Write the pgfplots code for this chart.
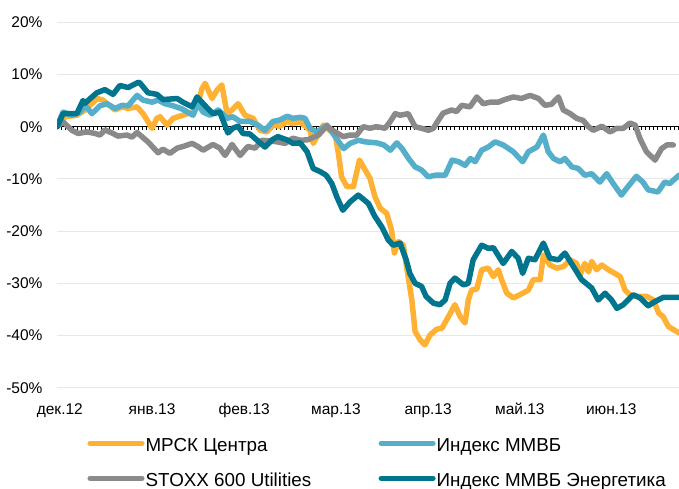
\documentclass[border=0pt]{standalone}
\usepackage{fontspec}
\setmainfont{Liberation Sans}
\usepackage{pgfplots}
\pgfplotsset{compat=1.18}
\definecolor{cOrange}{HTML}{FFB133}
\definecolor{cLBlue}{HTML}{55AFCB}
\definecolor{cGray}{HTML}{8A8A8A}
\definecolor{cTeal}{HTML}{00758D}
\definecolor{cGrid}{HTML}{E8E8E8}
\begin{document}
\begin{tikzpicture}
\begin{axis}[
  at={(0,0)}, anchor=south west,
  scale only axis, width=622bp, height=365.4bp,
  xmin=0, xmax=153.2, ymin=-50, ymax=20,
  axis line style={draw=none},
  major tick length=0pt,
  xtick={0.7,23.4,46.1,68.7,91.4,114,136.5},
  xticklabels={дек.12,янв.13,фев.13,мар.13,апр.13,май.13,июн.13},
  ytick={-50,-40,-30,-20,-10,0,10,20},
  yticklabels={-50\%,-40\%,-30\%,-20\%,-10\%,0\%,10\%,20\%},
  tick label style={font=\fontsize{15.5bp}{18bp}\selectfont},
  yticklabel style={anchor=east, inner sep=0pt, xshift=-14.3bp},
  xticklabel style={anchor=base, inner sep=0pt, yshift=-26.3bp},
  ymajorgrids, grid style={cGrid, line width=1bp},
  every axis plot/.append style={line width=5.5bp, line join=round, line cap=round},
  legend columns=2,
  legend cell align=left,
  legend image code/.code={\draw[#1, line cap=round] (0bp,0bp) -- (51.6bp,0bp);},
  legend style={
    at={(axis description cs:0.0490,-0.1311)}, anchor=north west,
    draw=none, fill=none, inner sep=0pt, outer sep=0pt,
    font=\fontsize{18.8bp}{21bp}\selectfont,
    nodes={inner sep=0pt, text height=15.4bp, text depth=0pt},
    row sep=19.6bp,
    /tikz/every odd column/.append style={column sep=1bp},
  },
]
% zero line with small daily ticks
\draw[black, line width=1.3bp] (axis cs:0,0) -- (axis cs:153.2,0);
\pgfplotsinvokeforeach{1,...,153}{\draw[black, line width=0.8bp] (axis cs:#1,0) -- (axis cs:#1,-0.6);}

\addplot[cOrange] coordinates {
(0,0) (2,1.9) (4.9,2.2) (6.9,3.2) (9.9,5.4) (11.3,5.1) (14.3,3.2) (16,3.8) (17.5,3.5) (19.7,3.8)
(21.2,2.5) (22.4,1) (23.4,-0.3) (24.6,1.6) (25.4,1.9) (27.1,0.3) (28.6,1.6) (31,2.2) (33.3,2.8)
(34.5,3.8) (35.7,7.3) (36.5,8.3) (38.2,5.4) (39.4,7) (40.6,8) (41.9,2.5) (43.1,3.2) (44.6,4.4)
(46.3,2.2) (48.3,1.6) (50,-0.7) (51.7,-1) (53.2,0.3) (54.9,0.1) (56.7,1) (57.9,0.6) (59.9,0.9)
(62.3,-0.7) (63.1,-3.2) (65.6,0.3) (67.2,-0.7) (68.5,-1.3) (69.3,-5.1) (70.1,-9.6) (71.4,-11.5)
(73,-11.5) (74.5,-6.4) (75.9,-8.3) (77.1,-9.9) (78.3,-13.4) (79.6,-15.6) (81.2,-16.6) (82.4,-19.8)
(83.1,-24.2) (84.1,-22) (85.3,-22.7) (86.1,-26.8) (87.4,-33.2) (88.2,-39.2) (89.4,-40.8) (90.6,-41.8)
(91.9,-39.9) (93.5,-38.8) (94.8,-38.6) (96.4,-36.4) (98,-34.1) (99.3,-36.4) (100.5,-37.6) (101.3,-33.2)
(102.1,-31.3) (103.4,-31.1) (104.6,-27.4) (106.2,-27.1) (107.5,-28.7) (108.7,-27.4) (109.5,-29.3)
(110.8,-31.9) (112.4,-32.8) (114,-32.2) (116.1,-31.3) (117.3,-29.3) (119,-29.3) (119.8,-24.6)
(121.4,-26.5) (123.1,-27.1) (124.7,-26.8) (126.4,-25.5) (128,-26.2) (128.8,-28.4) (130,-26.2)
(130.9,-27.8) (131.7,-25.8) (132.9,-27.4) (134.2,-26.5) (135.8,-27.4) (137.4,-28.1) (138.7,-28.7)
(139.9,-31.3) (141.1,-32.2) (142.8,-32.5) (145.2,-32.5) (146.9,-33.2) (148.2,-35.7) (149.3,-36.4)
(150.6,-38.3) (153.2,-39.5)
};
\addlegendentry{\makebox[233bp][l]{МРСК Центра}}

\addplot[cLBlue] coordinates {
(0,0) (1.5,2.8) (3.7,2.2) (5.7,2.8) (6.9,4.1) (8.6,2.5) (10.6,4) (12.3,4.4) (14.3,3.5) (16,4.1)
(17.5,4) (19.7,6) (21.2,5.1) (23.4,4.7) (24.9,5.1) (26.6,4.4) (28.6,4) (30.8,3.4) (33.5,2.2)
(34.7,4.4) (36,2.8) (37.7,2.2) (39.7,3.2) (41.9,1.6) (43.3,1.9) (45.1,1) (47.5,1) (49.5,0.3)
(51.2,-0.7) (53.2,1) (54.9,1.3) (56.7,2) (58.1,1.6) (59.9,1.8) (61.1,1.6) (62.3,-0.3) (64,-1)
(66.5,0.3) (68.5,-1.9) (70.6,-4.2) (72.2,-3.2) (74.2,-2.6) (75.9,-2.9) (78.8,-3.1) (80.5,-3.5)
(82.1,-4.5) (83.7,-3.1) (85,-4.2) (86.6,-6.1) (88.2,-7.7) (89.8,-8.3) (91.4,-9.6) (93.1,-9.3)
(95.6,-9.3) (97.3,-6.4) (98.9,-6.7) (100.5,-7.4) (101.8,-6.1) (103,-6.7) (104.6,-4.5) (106.2,-3.9)
(107.9,-2.9) (109.9,-3.5) (112.4,-4.8) (114.7,-6.7) (116.1,-4.8) (118.2,-3.9) (119.8,-1.6)
(121,-4.8) (122.3,-6.1) (123.9,-6.7) (125.1,-6.1) (126.8,-7.7) (128.4,-8) (130,-9.3) (131.7,-9)
(133.7,-10.6) (135.4,-9) (137,-10.9) (139,-13.1) (140.6,-11.5) (142.7,-9.5) (144.3,-10.6)
(145.6,-12.1) (148,-12.5) (149.7,-10.6) (150.9,-10.9) (153.2,-9.3)
};
\addlegendentry{Индекс ММВБ}

\addplot[cGray] coordinates {
(0,0) (1.5,0.9) (3.7,-0.7) (5.2,-1.3) (7.4,-1) (9.4,-1.3) (10.6,-1.6) (11.8,-0.6) (13.8,-1.3)
(15,-1.8) (17.2,-1.6) (18.5,-2) (19.7,-1.1) (20.9,-1.9) (22.4,-2.9) (23.6,-3.9) (24.9,-5)
(26.1,-4.3) (27.8,-5.1) (29.6,-4.1) (31,-3.8) (33.3,-3.2) (34.7,-3.8) (36,-4.5) (38.4,-3.4)
(40.1,-4.1) (41.4,-5.5) (43.1,-3.4) (45.1,-5.5) (47,-3.8) (48.8,-4.1) (50.5,-2.6) (52,-2.7)
(54.2,-2.9) (56.2,-3.2) (58.1,-2.2) (59.9,-2.6) (61.8,-2.5) (64.4,-1.6) (66.4,0.1) (68.5,-1)
(70.5,-1.9) (72.2,-1.6) (73.8,-1.6) (75.4,0) (77.1,-0.3) (78.7,0) (80.8,-0.3) (82,0.9) (83.3,2.5)
(84.5,2.2) (86.5,2.5) (88.2,0) (89.8,-0.3) (91.5,-0.7) (92.7,-0.3) (93.9,1.2) (95.1,2.6) (97.2,3.2)
(98.4,2.9) (99.7,4.1) (101.7,3.8) (103.4,5.7) (105,4.4) (106.7,4.7) (108.7,4.7) (110.3,5.2)
(112.4,5.7) (114.4,5.4) (116.5,6) (118.6,5.4) (120.2,4.1) (121.8,4.3) (123.5,5.7) (124.7,3.2)
(126.4,2.5) (128,1.6) (129.6,1.2) (130.9,0) (132.1,-0.7) (134.2,0.1) (136.2,-1) (137.9,-0.3)
(139.5,-0.3) (141.1,0.7) (142.4,0.3) (143.6,-2.3) (145.2,-4.8) (147.3,-6.4) (148.9,-4.2)
(150.2,-3.5) (151.8,-3.5)
};
\addlegendentry{\makebox[233bp][l]{STOXX 600 Utilities}}

\addplot[cTeal] coordinates {
(0,0) (1.5,2.5) (4.9,2.5) (6.4,5) (6.9,4.5) (9.8,6.5) (11.8,7.1) (13.8,6.2) (15.5,7.9) (17.5,7.5)
(20,8.5) (20.4,8.4) (22.4,6.5) (24.6,6.2) (26.1,5.2) (29.6,5.4) (31,4.7) (33.3,3.8) (34.5,5.7)
(36.5,4) (38.4,2.5) (40.1,2.8) (42.1,-1.2) (43.3,-0.3) (44.6,0.1) (45.8,-1.3) (47.5,-1.4)
(49.3,-2.6) (51.2,-3.9) (53,-2.5) (54.4,-1.9) (56.9,-2.6) (58.1,-3.2) (59.9,-3.1) (61.6,-4.8)
(63.1,-8) (64.8,-8.6) (66.3,-9.3) (67.7,-10.9) (68.9,-13.4) (70.4,-16) (72.2,-14.4) (74.2,-13.1)
(76.7,-14.7) (78.3,-17.2) (80,-19.2) (81.6,-21.7) (82.8,-22.7) (84.5,-22.3) (86,-25.5) (86.9,-28.1)
(88.2,-30) (89.8,-30.6) (90.9,-32.5) (92.7,-33.8) (94.3,-34.1) (95.6,-33.2) (96.8,-30) (98,-29)
(100.1,-30.3) (101.3,-30) (102.5,-25.5) (104.6,-22.7) (106.2,-23.3) (107.5,-23.2) (109.9,-26.2)
(112,-23.9) (113.6,-25.2) (114.7,-28.1) (116.1,-25.2) (117.7,-25.5) (119.8,-22.3) (121.4,-25.2)
(123.5,-25.5) (125.1,-24.2) (127.2,-26.8) (129.2,-29.3) (131.7,-30.9) (133.3,-33.2) (135,-31.9)
(136.6,-33.2) (137.9,-34.8) (139.5,-34.1) (141.9,-32.2) (143.6,-32.8) (145.6,-34.3) (147.3,-33.5)
(149.3,-32.7) (153.2,-32.7)
};
\addlegendentry{Индекс ММВБ Энергетика}
\end{axis}
\pgfresetboundingbox
\useasboundingbox (-57bp,-101.3bp) rectangle (622bp,387.7bp);
\end{tikzpicture}
\end{document}
